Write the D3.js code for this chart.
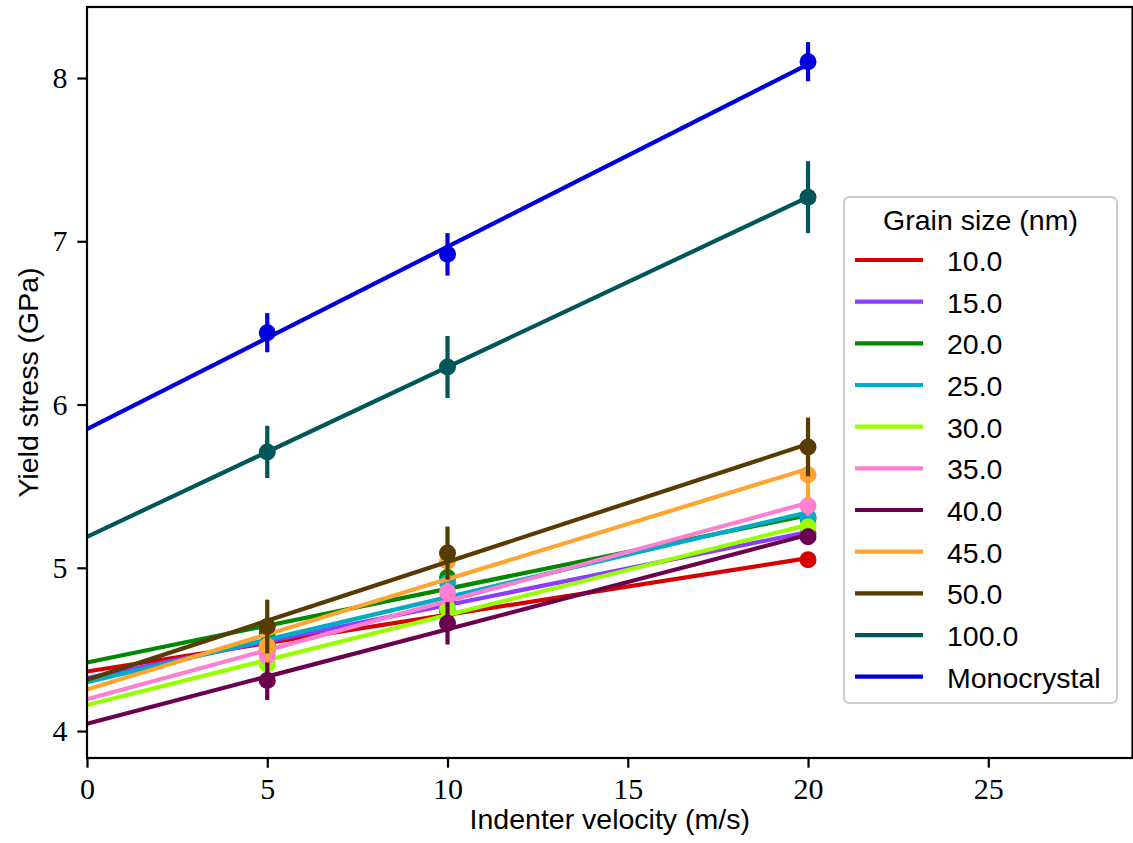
<!DOCTYPE html>
<html>
<head>
<meta charset="utf-8">
<script src="https://cdn.jsdelivr.net/npm/d3@7"></script>
<style>
  html, body { margin: 0; padding: 0; background: #ffffff; }
  svg { display: block; }
  .sans { font-family: "Liberation Sans", Arial, Helvetica, sans-serif; }
  .tick text { font-family: "Liberation Serif", "Times New Roman", serif; font-size: 30px; fill: #000; }
</style>
</head>
<body>
<svg id="chart" width="1133" height="843"></svg>
<script>
// Indenter velocities (m/s) at which yield stress was measured
const velocities = [5, 10, 20];

// Grain sizes (nm) and their series colours
const grainSizes = ["10.0", "15.0", "20.0", "25.0", "30.0", "35.0", "40.0", "45.0", "50.0", "100.0", "Monocrystal"];
const seriesColors = ["#d60000", "#8c3bff", "#018700", "#00acc6", "#97ff00", "#ff7ed1",
                      "#6b004f", "#ffa52f", "#573b00", "#005659", "#0000dd"];

// Mean yield stress (GPa) per grain size, at 5, 10 and 20 m/s
const yieldStress = [
  [4.52, 4.74, 5.05],
  [4.53, 4.80, 5.21],
  [4.60, 4.94, 5.30],
  [4.50, 4.91, 5.31],
  [4.41, 4.75, 5.25],
  [4.46, 4.85, 5.38],
  [4.31, 4.66, 5.19],
  [4.52, 5.04, 5.57],
  [4.64, 5.09, 5.74],
  [5.71, 6.23, 7.27],
  [6.44, 6.92, 8.10]
];

// Standard deviation (GPa) of the yield stress
const yieldError = [
  [0.03, 0.03, 0.03],
  [0.05, 0.05, 0.05],
  [0.06, 0.06, 0.05],
  [0.06, 0.06, 0.06],
  [0.06, 0.06, 0.05],
  [0.06, 0.06, 0.06],
  [0.12, 0.13, 0.05],
  [0.10, 0.10, 0.15],
  [0.165, 0.163, 0.18],
  [0.16, 0.19, 0.22],
  [0.12, 0.13, 0.12]
];

const xTicks = [0, 5, 10, 15, 20, 25];
const yTicks = [4, 5, 6, 7, 8];

const svg = d3.select("#chart");
const plotLeft = 87, plotRight = 1132.5, plotTop = 7, plotBottom = 758;

const x = d3.scaleLinear().domain([0, 29]).range([plotLeft, plotRight]);
const y = d3.scaleLinear().domain([3.835, 8.435]).range([plotBottom, plotTop]);

// Least-squares line through the measured points
function fit(xs, ys) {
  const mx = d3.mean(xs), my = d3.mean(ys);
  let sxy = 0, sxx = 0;
  xs.forEach((v, i) => { sxy += (v - mx) * (ys[i] - my); sxx += (v - mx) * (v - mx); });
  const slope = sxy / sxx;
  return { slope, intercept: my - slope * mx };
}

const plot = svg.append("g");
const lineGen = d3.line().x(d => x(d[0])).y(d => y(d[1]));

grainSizes.forEach((g, i) => {
  const c = seriesColors[i];
  const pts = velocities.map((v, j) => ({ v, s: yieldStress[i][j], e: yieldError[i][j] }));
  const grp = plot.append("g");
  grp.selectAll("line.err").data(pts).enter().append("line")
    .attr("x1", d => x(d.v)).attr("x2", d => x(d.v))
    .attr("y1", d => y(d.s - d.e)).attr("y2", d => y(d.s + d.e))
    .attr("stroke", c).attr("stroke-width", 4.2);
  grp.selectAll("circle").data(pts).enter().append("circle")
    .attr("cx", d => x(d.v)).attr("cy", d => y(d.s)).attr("r", 8.5)
    .attr("fill", c);
  const f = fit(velocities, yieldStress[i]);
  grp.append("path")
    .datum([[0, f.intercept], [20, f.intercept + 20 * f.slope]])
    .attr("d", lineGen)
    .attr("fill", "none").attr("stroke", c).attr("stroke-width", 4.2);
});

// Axes
const xAxis = svg.append("g").attr("transform", `translate(0,${plotBottom})`)
  .call(d3.axisBottom(x).tickValues(xTicks).tickSize(9.7).tickPadding(9.7).tickFormat(d3.format("d")));
const yAxis = svg.append("g").attr("transform", `translate(${plotLeft},0)`)
  .call(d3.axisLeft(y).tickValues(yTicks).tickSize(9.7).tickPadding(9.7).tickFormat(d3.format("d")));
[xAxis, yAxis].forEach(a => {
  a.select(".domain").remove();
  a.selectAll(".tick line").attr("stroke", "#000").attr("stroke-width", 2.2);
});

// Frame
svg.append("rect")
  .attr("x", plotLeft).attr("y", plotTop)
  .attr("width", plotRight - plotLeft).attr("height", plotBottom - plotTop)
  .attr("fill", "none").attr("stroke", "#000").attr("stroke-width", 2.2);

// Axis titles
svg.append("text").attr("class", "sans")
  .attr("x", (plotLeft + plotRight) / 2).attr("y", 829)
  .attr("text-anchor", "middle").attr("font-size", 28.5)
  .text("Indenter velocity (m/s)");
svg.append("text").attr("class", "sans")
  .attr("transform", `translate(38,${(plotTop + plotBottom) / 2}) rotate(-90)`)
  .attr("text-anchor", "middle").attr("font-size", 28.5)
  .text("Yield stress (GPa)");

// Legend
const lg = svg.append("g");
lg.append("rect")
  .attr("x", 844).attr("y", 197).attr("width", 273).attr("height", 506)
  .attr("rx", 5.5).attr("ry", 5.5)
  .attr("fill", "#ffffff").attr("fill-opacity", 0.8)
  .attr("stroke", "#cccccc").attr("stroke-width", 2);
lg.append("text").attr("class", "sans")
  .attr("x", 980.5).attr("y", 230).attr("text-anchor", "middle").attr("font-size", 28.5)
  .text("Grain size (nm)");
grainSizes.forEach((g, i) => {
  const ly = 260 + i * 41.67;
  lg.append("line").attr("x1", 855).attr("x2", 923).attr("y1", ly).attr("y2", ly)
    .attr("stroke", seriesColors[i]).attr("stroke-width", 4.2);
  lg.append("text").attr("class", "sans")
    .attr("x", 947).attr("y", ly + 11).attr("font-size", 28.5)
    .text(g);
});
</script>
</body>
</html>
